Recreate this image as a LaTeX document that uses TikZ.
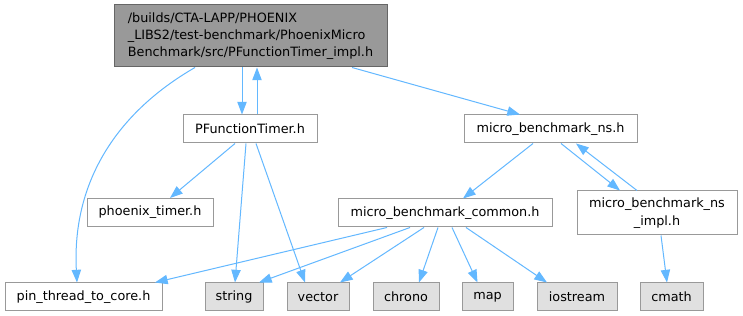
\documentclass[tikz,border=0pt]{standalone}
\usepackage{fontspec}
\setmainfont{DejaVu Sans}
\usepackage{tikz}
\usetikzlibrary{arrows.meta}
\definecolor{DGEdge}{HTML}{63B8FF}
\definecolor{DGBorder}{HTML}{999999}
\definecolor{DGSysFill}{HTML}{E0E0E0}
\definecolor{DGRootFill}{HTML}{999999}
\definecolor{DGRootBorder}{HTML}{666666}
\tikzset{
  dgFile/.style={
    rectangle, draw=DGBorder, fill=white, line width=0.75pt,
    align=center, text=black, minimum height=21pt, inner sep=1pt,
    font=\fontsize{9.6}{13}\selectfont
  },
  dgSys/.style={dgFile, fill=DGSysFill},
  dgRoot/.style={dgFile, draw=DGRootBorder, fill=DGRootFill, align=left},
  dgEdge/.style={-{Triangle[length=9.5pt,width=7pt]}, draw=DGEdge, line width=0.75pt}
}

\begin{document}
\begin{tikzpicture}[x=0.75pt,y=0.75pt]
  \useasboundingbox[fill=white] (0,0) rectangle (743,316);

  % files
  \node[dgRoot, minimum width=204.75pt, minimum height=46.5pt] (root) at (250.5,280)
    {/builds/CTA-LAPP/PHOENIX\\\_LIBS2/test-benchmark/PhoenixMicro\\Benchmark/src/PFunctionTimer\_impl.h};
  \node[dgFile, minimum width=100.5pt] (pft) at (250,187) {PFunctionTimer.h};
  \node[dgFile, minimum width=129.75pt] (ns) at (550.5,187) {micro\_benchmark\_ns.h};
  \node[dgFile, minimum width=94.5pt] (phoenix) at (150,103.5) {phoenix\_timer.h};
  \node[dgFile, minimum width=160.5pt] (common) at (445,103) {micro\_benchmark\_common.h};
  \node[dgFile, minimum width=120pt, minimum height=33pt] (nsimpl) at (657,103)
    {micro\_benchmark\_ns\\\_impl.h};
  \node[dgFile, minimum width=117.75pt] (pin) at (83.5,19) {pin\_thread\_to\_core.h};

  % system headers
  \node[dgSys, minimum width=43.5pt] (string) at (234,19) {string};
  \node[dgSys, minimum width=46.5pt] (vector) at (318,19) {vector};
  \node[dgSys, minimum width=49.5pt] (chrono) at (406,19) {chrono};
  \node[dgSys, minimum width=38.25pt] (map) at (487.5,19) {map};
  \node[dgSys, minimum width=60pt] (iostream) at (577,19) {iostream};
  \node[dgSys, minimum width=47.25pt] (cmath) at (671.5,19) {cmath};

  % includes
  \draw[dgEdge] ([shift={(-55.5,0)}]root.south) to[out=210, in=93] ([shift={(-6.5,0)}]pin.north);
  \draw[dgEdge] ([shift={(-8.5,0)}]root.south) -- ([shift={(-8,0)}]pft.north);
  \draw[dgEdge] ([shift={(7,0)}]pft.north) -- ([shift={(6.5,0)}]root.south);
  \draw[dgEdge] ([shift={(101.5,0)}]root.south) -- ([shift={(-30.5,0)}]ns.north);
  \draw[dgEdge] ([shift={(-15,0)}]pft.south) -- ([shift={(20,0)}]phoenix.north);
  \draw[dgEdge] ([shift={(-4,0)}]pft.south) -- ([shift={(1,0)}]string.north);
  \draw[dgEdge] ([shift={(6,0)}]pft.south) -- ([shift={(-13,0)}]vector.north);
  \draw[dgEdge] ([shift={(-17.5,0)}]ns.south) -- ([shift={(18,0)}]common.north);
  \draw[dgEdge] ([shift={(10.5,0)}]ns.south) -- ([shift={(-37,0)}]nsimpl.north);
  \draw[dgEdge] ([shift={(-20,0)}]nsimpl.north) -- ([shift={(25.5,0)}]ns.south);
  \draw[dgEdge] ([shift={(-58,0)}]common.south) -- ([shift={(71.5,0)}]pin.north);
  \draw[dgEdge] ([shift={(-35,0)}]common.south) -- ([shift={(25,0)}]string.north);
  \draw[dgEdge] ([shift={(-21,0)}]common.south) -- ([shift={(22,0)}]vector.north);
  \draw[dgEdge] ([shift={(-7,0)}]common.south) -- ([shift={(13,0)}]chrono.north);
  \draw[dgEdge] ([shift={(7,0)}]common.south) -- ([shift={(-10,0)}]map.north);
  \draw[dgEdge] ([shift={(21,0)}]common.south) -- ([shift={(-30,0)}]iostream.north);
  \draw[dgEdge] ([shift={(4,0)}]nsimpl.south) -- ([shift={(-4.5,0)}]cmath.north);
\end{tikzpicture}
\end{document}
